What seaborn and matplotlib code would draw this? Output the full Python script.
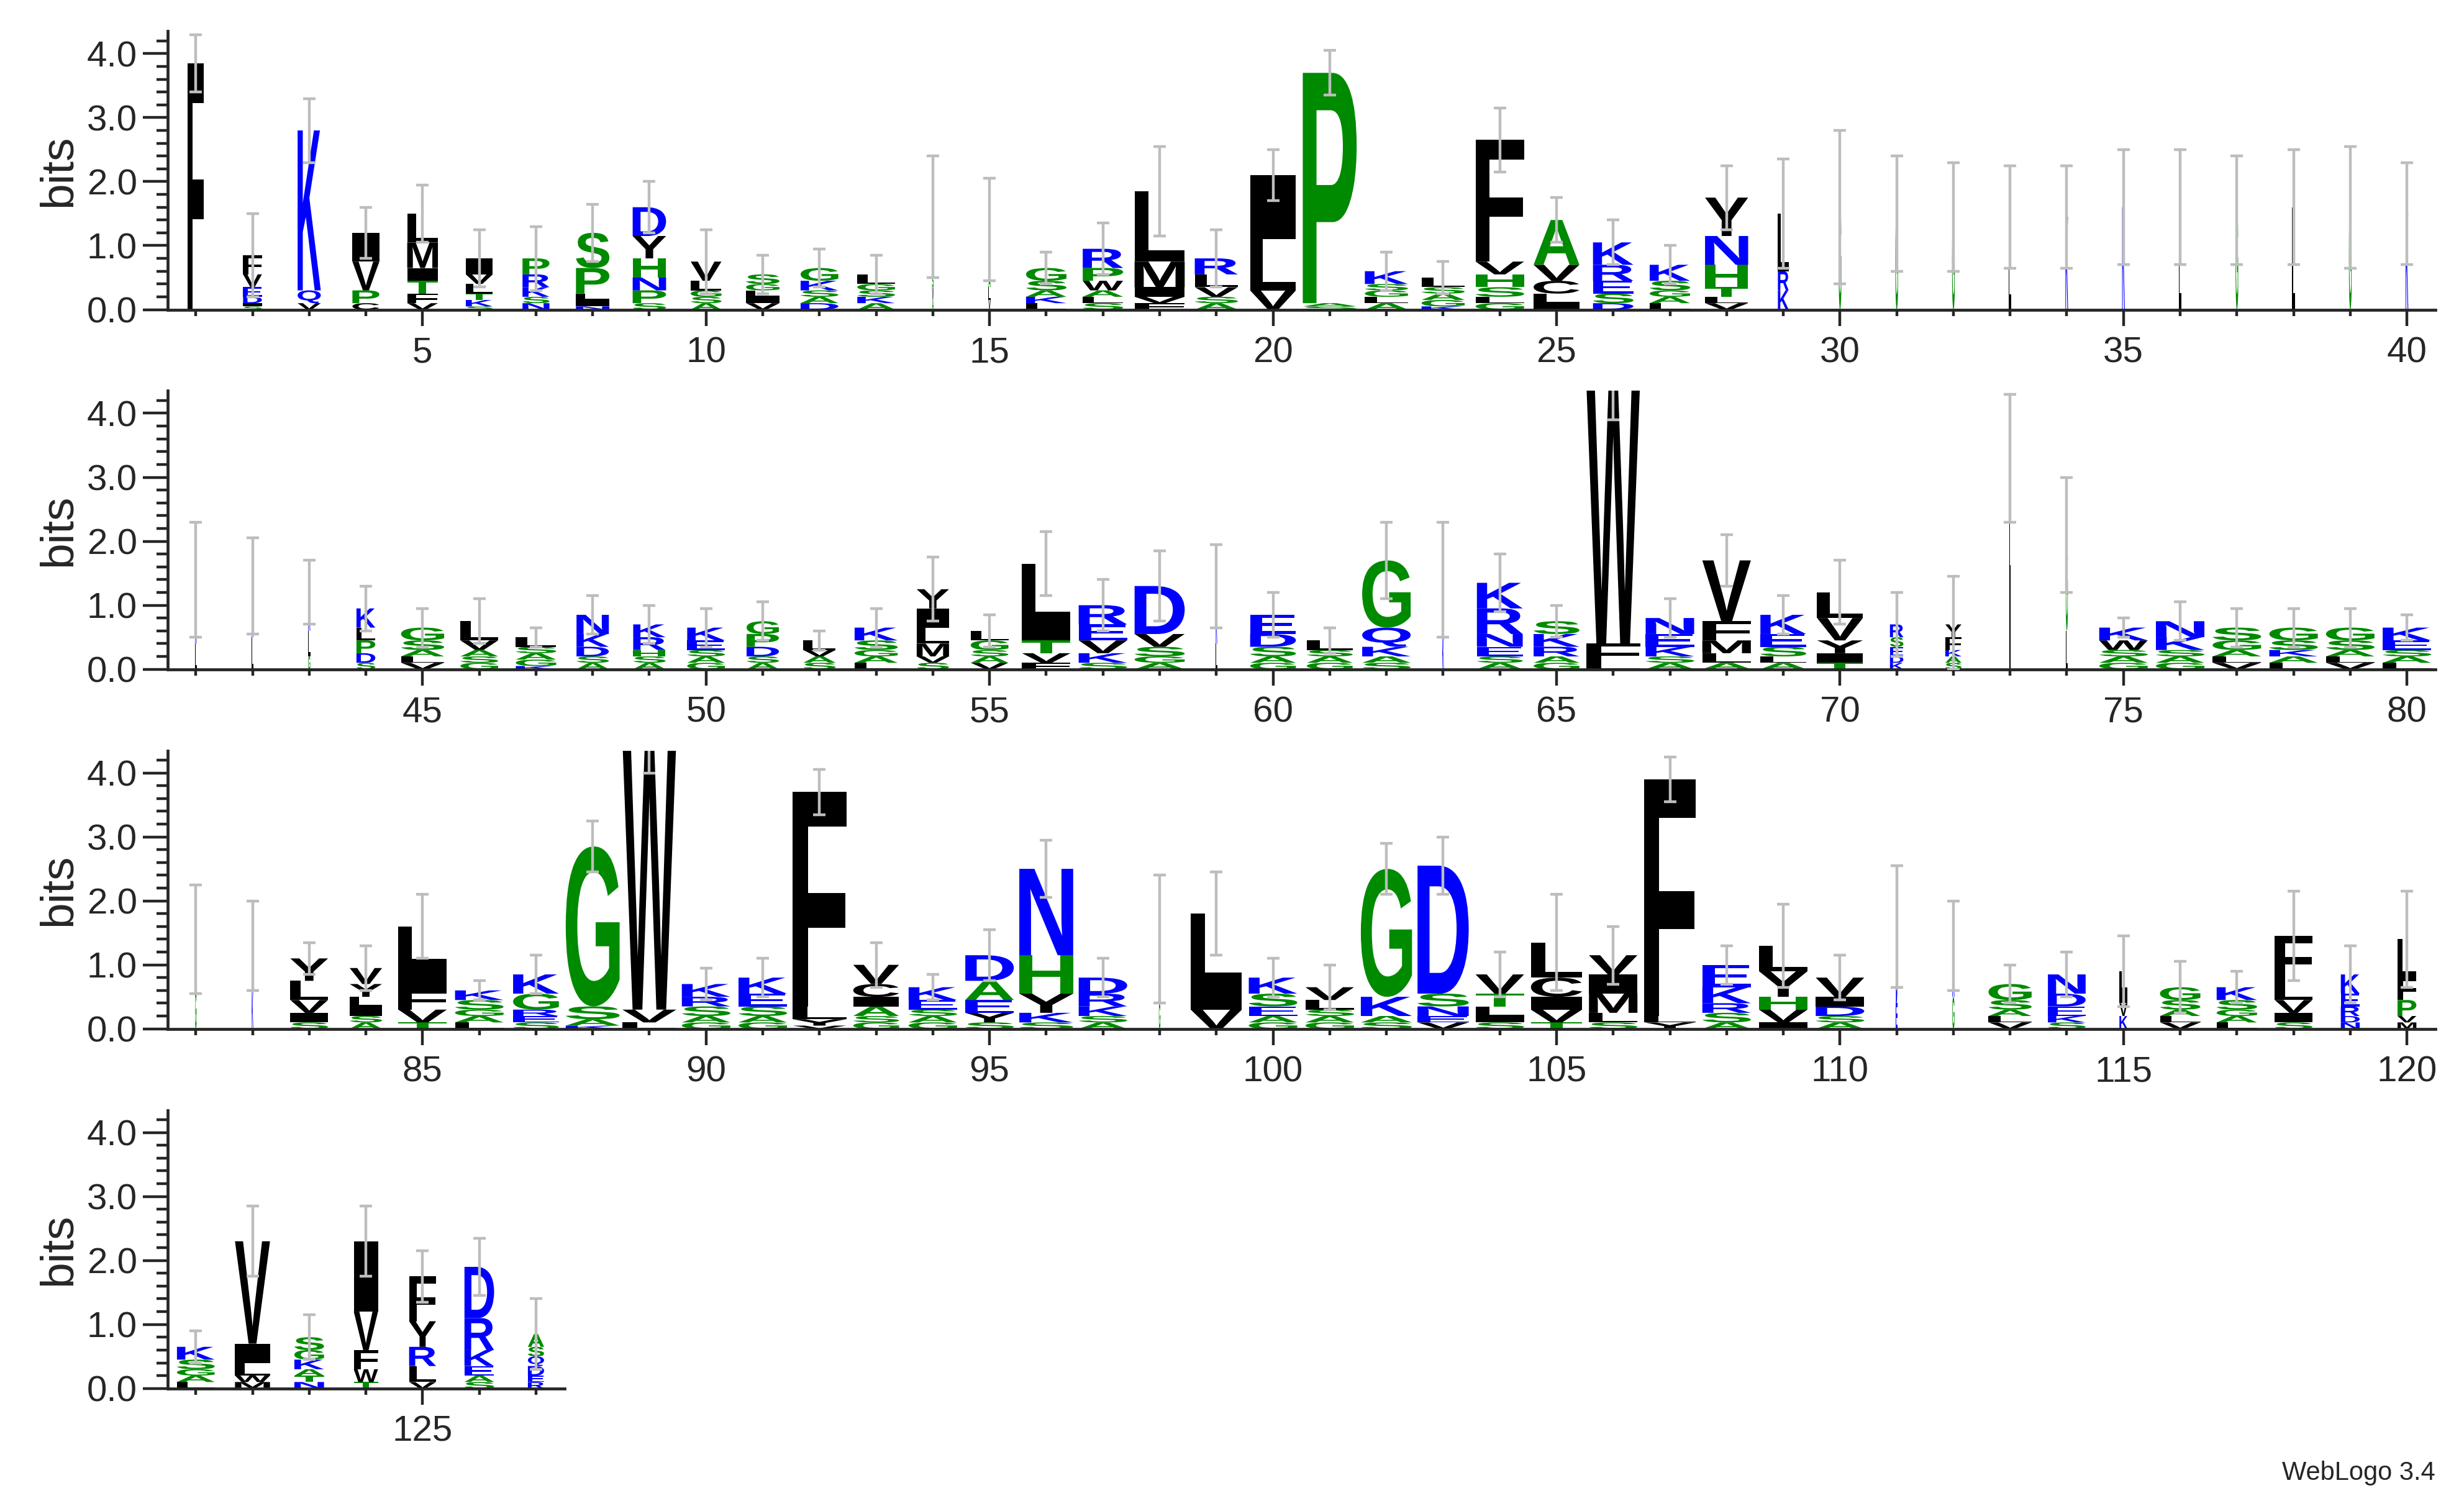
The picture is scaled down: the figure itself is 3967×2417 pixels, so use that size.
import matplotlib
matplotlib.use("Agg")
import matplotlib.pyplot as plt
import seaborn as sns
from matplotlib.textpath import TextPath
from matplotlib.font_manager import FontProperties
from matplotlib.patches import PathPatch
from matplotlib.transforms import Affine2D
from matplotlib.ticker import MultipleLocator

# ---------------- data (letters listed top -> bottom, heights in bits) ----------------
stacks_1 = [
    "F:3.85", "F:0.3 V:0.2 E:0.15 D:0.1 I:0.05 S:0.05", "K:2.5 Q:0.2 V:0.1", "I:0.45 V:0.45 P:0.2 C:0.1",
    "L:0.45 M:0.4 I:0.2 T:0.2 F:0.15 V:0.1", "I:0.25 V:0.15 L:0.15 T:0.1 K:0.1 S:0.05",
    "P:0.25 R:0.2 K:0.15 S:0.1 N:0.1", "S:0.55 P:0.4 L:0.1 I:0.1 N:0.05",
    "D:0.45 Y:0.35 H:0.3 N:0.2 P:0.2 S:0.1", "V:0.3 L:0.15 G:0.1 S:0.1 A:0.1",
    "S:0.15 G:0.1 L:0.1 I:0.1 V:0.1", "G:0.2 K:0.15 S:0.1 A:0.1 D:0.1", "L:0.15 G:0.1 S:0.1 K:0.1 A:0.1",
    "L:0.6 G:0.3 S:0.2 V:0.2 A:0.15", "S:0.4 G:0.3 A:0.2 L:0.2 V:0.15", "G:0.2 S:0.15 A:0.1 K:0.1 L:0.1",
    "R:0.3 P:0.2 W:0.15 A:0.1 L:0.1 S:0.1", "L:1.1 M:0.4 I:0.15 V:0.1 F:0.1",
    "R:0.25 L:0.2 V:0.15 S:0.1 A:0.1", "I:1.0 L:0.8 V:0.3", "P:3.6 A:0.05 S:0.05",
    "K:0.2 S:0.1 G:0.1 L:0.1 A:0.1", "L:0.15 S:0.1 A:0.1 G:0.1 K:0.05",
    "F:1.9 V:0.2 H:0.2 S:0.15 L:0.1 G:0.1", "A:0.7 V:0.25 C:0.2 L:0.15 I:0.1",
    "K:0.35 R:0.25 E:0.2 S:0.15 D:0.1", "K:0.25 S:0.15 G:0.1 A:0.1 L:0.1",
    "Y:0.6 N:0.45 H:0.35 T:0.15 L:0.1 V:0.1", "L:0.9 R:0.3 K:0.3",
    "G:1.6", "G:1.5", "G:1.45", "L:1.45", "K:1.45", "K:1.6", "L:1.6", "G:1.55", "L:1.6", "G:1.6", "K:1.5",
]
err_1 = [0.45, 0.65, 0.5, 0.4, 0.45, 0.45, 0.5, 0.45, 0.4, 0.5, 0.3, 0.3, 0.3, 0.95, 0.8, 0.25, 0.4, 0.7, 0.45, 0.4,
         0.35, 0.3, 0.25, 0.5, 0.35, 0.35, 0.3, 0.5, 0.85, 1.2, 0.9, 0.85, 0.8, 0.8, 0.9, 0.9, 0.85, 0.9, 0.95, 0.8]
occ_1 = [0.3, 0.35, 0.43, 0.5, 0.57, 0.5, 0.5, 0.62, 0.62, 0.57, 0.62, 0.7, 0.7, 0.03, 0.04, 0.75, 0.75, 0.93, 0.8,
         0.85, 1.0, 0.8, 0.8, 0.9, 0.85, 0.75, 0.75, 0.8, 0.2] + [0.05] * 11

stacks_2 = [
    "K:1.0 L:0.4", "R:0.8 L:0.5", "K:0.6 L:0.4 G:0.2", "K:0.3 L:0.2 P:0.2 D:0.15 S:0.1",
    "G:0.2 S:0.15 A:0.1 L:0.1 V:0.1", "L:0.3 V:0.15 A:0.1 S:0.1 G:0.1", "L:0.15 S:0.1 A:0.1 G:0.1 K:0.05",
    "N:0.3 K:0.2 D:0.15 S:0.1 A:0.1", "K:0.2 R:0.2 H:0.1 S:0.1 A:0.1", "K:0.2 E:0.15 S:0.1 A:0.1 G:0.1",
    "G:0.2 P:0.2 D:0.15 S:0.1 A:0.1", "L:0.15 V:0.1 A:0.1 S:0.1", "K:0.2 S:0.15 G:0.1 A:0.1 L:0.1",
    "Y:0.3 I:0.3 L:0.25 M:0.2 V:0.1 S:0.1", "L:0.15 G:0.15 S:0.1 A:0.1 V:0.1",
    "L:0.9 I:0.3 T:0.2 V:0.15 F:0.1", "R:0.3 E:0.25 V:0.2 K:0.15 S:0.1", "D:0.75 V:0.2 S:0.15 G:0.1 A:0.1",
    "K:0.9 L:0.4", "E:0.3 D:0.2 S:0.15 A:0.1 G:0.1", "L:0.15 S:0.1 A:0.1 G:0.1",
    "G:1.05 Q:0.3 K:0.15 A:0.1 S:0.1", "L:0.9 K:0.5", "K:0.4 R:0.4 N:0.2 E:0.15 S:0.1 A:0.1",
    "S:0.2 K:0.2 R:0.15 A:0.1 G:0.1", "W:4.1 F:0.3 L:0.1", "N:0.25 E:0.2 K:0.15 S:0.1 A:0.1",
    "V:0.95 F:0.3 M:0.2 L:0.15 A:0.1", "K:0.3 E:0.2 S:0.15 L:0.1 A:0.1", "L:0.4 V:0.35 Y:0.2 I:0.15 T:0.1",
    "R:0.2 S:0.15 E:0.15 D:0.1 K:0.1", "Y:0.2 F:0.2 K:0.1 A:0.1 S:0.1", "L:2.0 I:1.3", "G:1.5 L:0.6",
    "K:0.2 W:0.15 S:0.1 A:0.1 G:0.1", "N:0.25 K:0.2 S:0.1 A:0.1 G:0.1", "S:0.2 G:0.15 A:0.1 L:0.1 V:0.1",
    "G:0.2 S:0.15 K:0.1 A:0.1 L:0.1", "G:0.2 S:0.15 A:0.1 L:0.1 V:0.1", "K:0.2 E:0.15 S:0.1 A:0.1 L:0.1",
]
err_2 = [0.9, 0.75, 0.5, 0.35, 0.3, 0.35, 0.15, 0.3, 0.3, 0.3, 0.3, 0.15, 0.3, 0.5, 0.25, 0.5, 0.4, 0.55, 0.65, 0.35,
         0.2, 0.6, 0.9, 0.45, 0.25, 0.6, 0.3, 0.4, 0.3, 0.5, 0.5, 0.75, 1.0, 0.9, 0.15, 0.3, 0.3, 0.3, 0.3, 0.2]
occ_2 = [0.03, 0.03, 0.04, 0.35, 0.8, 0.7, 0.75, 0.6, 0.6, 0.7, 0.6, 0.6, 0.8, 0.6, 0.7, 0.9, 0.9, 0.93, 0.03,
         0.85, 0.85, 0.9, 0.03, 0.85, 0.85, 1.0, 0.9, 0.9, 0.85, 0.85, 0.25, 0.3, 0.03, 0.04] + [0.9] * 6

stacks_3 = [
    "L:0.8 G:0.6", "L:0.7 K:0.6", "Y:0.35 L:0.3 V:0.2 I:0.15 S:0.1", "V:0.25 Y:0.2 L:0.15 I:0.15 S:0.1 A:0.1",
    "L:0.6 I:0.4 F:0.3 V:0.2 T:0.1", "K:0.15 S:0.15 G:0.1 A:0.1 L:0.1", "K:0.3 G:0.25 R:0.1 E:0.1 S:0.1",
    "G:2.5 S:0.2 A:0.1 K:0.05", "W:4.2 V:0.2 L:0.1", "K:0.2 R:0.15 S:0.15 A:0.1 G:0.1",
    "K:0.25 E:0.2 S:0.15 A:0.1 G:0.1", "F:3.35 L:0.2 Y:0.1 V:0.05", "V:0.3 C:0.2 I:0.15 A:0.15 S:0.1 G:0.1",
    "K:0.2 E:0.15 S:0.1 A:0.1 G:0.1", "D:0.4 A:0.3 E:0.2 Y:0.15 S:0.1", "N:1.35 H:0.6 Y:0.3 K:0.15 S:0.1",
    "D:0.25 R:0.2 K:0.15 S:0.1 A:0.1", "L:1.0 G:0.4", "L:1.1 I:0.4 V:0.3", "K:0.25 S:0.2 E:0.15 A:0.1 G:0.1",
    "V:0.2 L:0.15 S:0.1 A:0.1 G:0.1", "G:2.0 K:0.3 A:0.1 S:0.1", "D:2.0 S:0.2 N:0.15 E:0.1 V:0.1",
    "V:0.3 T:0.2 L:0.15 I:0.1 S:0.1", "L:0.55 C:0.3 I:0.2 V:0.2 T:0.1", "V:0.3 I:0.3 M:0.3 L:0.15 S:0.1",
    "F:3.7 L:0.1 Y:0.1", "E:0.35 K:0.25 R:0.15 S:0.15 A:0.1", "L:0.4 Y:0.4 H:0.2 V:0.2 I:0.1",
    "V:0.3 I:0.15 D:0.15 S:0.1 A:0.1", "D:1.2 E:0.4", "K:0.8 G:0.5", "G:0.25 S:0.15 A:0.1 L:0.1 V:0.1",
    "N:0.3 D:0.2 E:0.15 K:0.1 S:0.1", "L:0.3 I:0.2 V:0.2 K:0.2", "G:0.2 S:0.15 A:0.1 L:0.1 V:0.1",
    "K:0.2 S:0.15 G:0.1 A:0.1 L:0.1", "F:0.7 L:0.3 V:0.2 I:0.15 S:0.1", "K:0.3 E:0.2 R:0.15 D:0.1 N:0.1",
    "L:0.6 F:0.35 P:0.25 V:0.1 M:0.1",
]
err_3 = [0.85, 0.7, 0.25, 0.35, 0.5, 0.15, 0.3, 0.4, 0.5, 0.25, 0.3, 0.35, 0.35, 0.2, 0.4, 0.45, 0.3, 1.0, 0.65, 0.3,
         0.35, 0.4, 0.45, 0.35, 0.75, 0.45, 0.35, 0.3, 0.65, 0.35, 0.95, 0.7, 0.3, 0.35, 0.55, 0.4, 0.25, 0.7, 0.45, 0.75]
occ_3 = [0.03, 0.03, 0.7, 0.6, 0.9, 0.9, 0.85, 1.0, 1.0, 0.9, 0.9, 1.0, 0.85, 0.9, 0.9, 1.0, 0.9, 0.03, 0.95, 0.9,
         0.9, 0.95, 0.95, 0.9, 0.95, 0.9, 0.95, 0.9, 0.9, 0.9, 0.03, 0.04, 0.8, 0.7, 0.15, 0.75, 0.75, 0.7, 0.35, 0.35]

stacks_4 = [
    "K:0.2 S:0.15 G:0.1 A:0.1 L:0.1", "V:1.6 I:0.3 L:0.2 W:0.1 M:0.1", "S:0.2 G:0.15 K:0.15 A:0.1 T:0.1 N:0.1",
    "I:1.1 V:0.6 F:0.3 W:0.2 T:0.1", "F:0.7 Y:0.4 R:0.3 L:0.25 V:0.1", "D:0.8 R:0.5 K:0.25 E:0.15 A:0.1 S:0.1",
    "A:0.2 S:0.15 Q:0.15 D:0.15 E:0.1 R:0.1",
]
err_4 = [0.25, 0.55, 0.35, 0.55, 0.4, 0.45, 0.55]
occ_4 = [0.7, 0.65, 0.55, 0.45, 0.5, 0.55, 0.3]

row_starts = [1, 41, 81, 121]

# ---------------- style ----------------
sns.set_theme(style="ticks")
plt.rcParams["font.family"] = ["Liberation Sans", "DejaVu Sans"]

GREEN, BLUE, BLACK = "#008a00", "#0000ff", "#000000"
color_of = {}
for c in "GSPHAT":
    color_of[c] = GREEN
for c in "KRDENQ":
    color_of[c] = BLUE
for c in "VLIMFWYC":
    color_of[c] = BLACK

fp = FontProperties(family="Liberation Sans", weight="bold")


def draw_letter(ax, ch, x, y0, w, h, color):
    tp = TextPath((0, 0), ch, size=1, prop=fp)
    bb = tp.get_extents()
    tr = (Affine2D().translate(-bb.x0, -bb.y0)
          .scale(w / bb.width, h / bb.height).translate(x - w / 2, y0))
    ax.add_patch(PathPatch(tr.transform_path(tp), fc=color, ec="none", lw=0))


W, H = 3967, 2417
fig = plt.figure(figsize=(W / 100, H / 100), dpi=100)
left = 105 / 1545
unit_w = 1422 / 40 / 1545
ax_h = 178 / 960

rows = [(stacks_1, err_1, occ_1), (stacks_2, err_2, occ_2), (stacks_3, err_3, occ_3), (stacks_4, err_4, occ_4)]
for r, (stacks, errs, occs) in enumerate(rows):
    n = len(stacks)
    bottom = 1 - (198 + 230 * r) / 960
    ax = fig.add_axes([left, bottom, unit_w * n, ax_h])
    start = row_starts[r]
    for i, (spec, e, oc) in enumerate(zip(stacks, errs, occs)):
        x = start + i
        items = [(s.split(":")[0], float(s.split(":")[1])) for s in spec.split()]
        y = 0.0
        for ch, h in reversed(items):
            draw_letter(ax, ch, x, y, 0.95 * oc, h, color_of.get(ch, BLACK))
            y += h
        ax.errorbar([x], [y], yerr=[[min(e, y)], [e]], fmt="none", ecolor="#bdbdbd",
                    elinewidth=3.2, capsize=7.5, capthick=3.2, zorder=5)
    ax.set_xlim(start - 0.5, start + n - 0.5)
    ax.set_ylim(0, 4.35)
    ax.set_yticks([0, 1, 2, 3, 4])
    ax.set_yticklabels(["0.0", "1.0", "2.0", "3.0", "4.0"])
    ax.yaxis.set_minor_locator(MultipleLocator(0.2))
    xt = [v for v in range(start, start + n) if v % 5 == 0]
    ax.set_xticks(xt)
    ax.set_xticks(list(range(start, start + n)), minor=True)
    ax.tick_params(axis="y", which="major", labelsize=42, length=29, width=3.2, direction="out", pad=6)
    ax.tick_params(axis="y", which="minor", length=13, width=3.2, direction="out")
    ax.tick_params(axis="x", which="major", labelsize=42, length=19, width=3.2, direction="out", pad=12)
    ax.tick_params(axis="x", which="minor", length=7, width=3.2, direction="out")
    for s in ["top", "right"]:
        ax.spines[s].set_visible(False)
    for s in ["left", "bottom"]:
        ax.spines[s].set_linewidth(3.4)
    ax.spines["bottom"].set_bounds(start - 0.47, start + n - 0.5)
    ax.set_ylabel("bits", fontsize=54, labelpad=8)
    ax.set_facecolor("none")

fig.text(1527 / 1545, 1 - 942 / 960, "WebLogo 3.4", ha="right", va="center", fontsize=30)
fig.savefig("out.png", dpi=100)
